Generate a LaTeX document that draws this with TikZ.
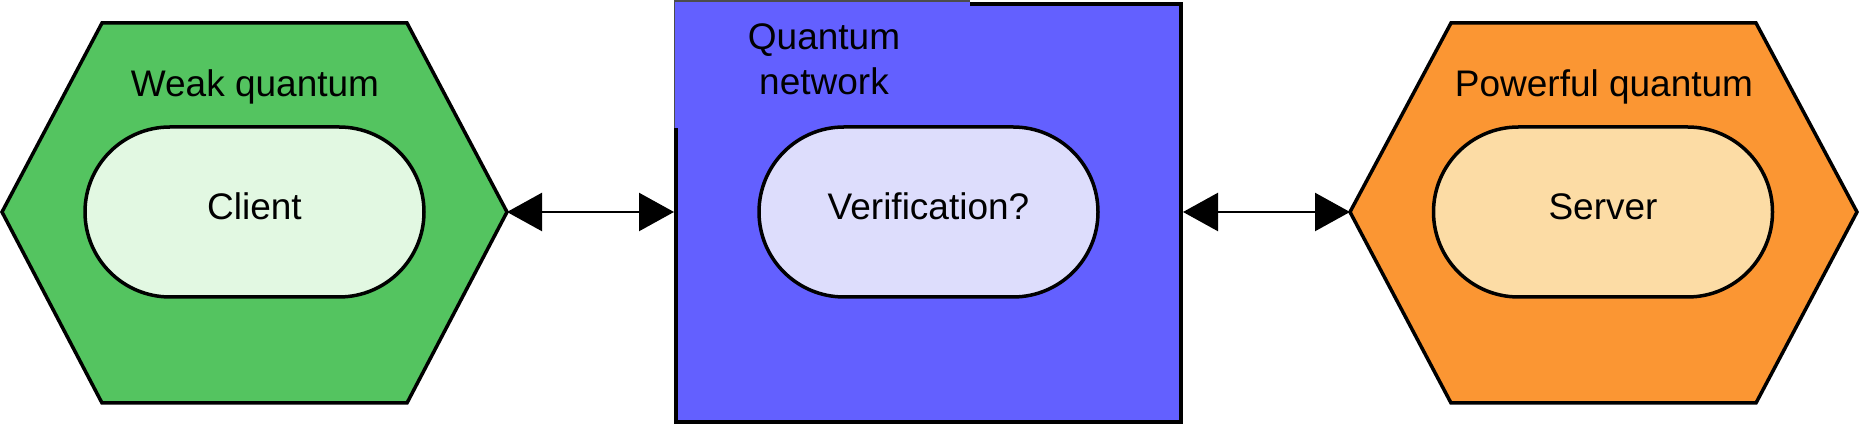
\documentclass[tikz,border=0pt]{standalone}
\usepackage{fontspec}
\setmainfont{Liberation Sans}
\usetikzlibrary{arrows.meta}
\definecolor{hgreen}{RGB}{84,196,96}
\definecolor{lgreen}{RGB}{226,248,226}
\definecolor{qblue}{RGB}{99,96,255}
\definecolor{lblue}{RGB}{221,221,252}
\definecolor{horange}{RGB}{251,150,51}
\definecolor{lorange}{RGB}{252,220,165}
\begin{document}
\begin{tikzpicture}[x=0.5pt,y=-0.5pt,
  every node/.style={font=\fontsize{18.5pt}{22.5pt}\selectfont},
  hexa/.style={draw=black, line width=1.75pt, line join=miter},
  pill/.style={draw=black, line width=1.75pt, rounded corners=42.5pt, minimum width=169.5pt, minimum height=85pt, inner sep=0pt, text height=12pt, text depth=4pt},
  title/.style={anchor=base, inner sep=0pt},
  conn/.style={line width=1.2pt, {Triangle[length=17.5pt,width=19pt]}-{Triangle[length=17.5pt,width=19pt]}}]
\useasboundingbox (0,0) rectangle (1859,426);
\fill[white] (0,0) rectangle (1859,426);
% green hexagon
\coordinate (gL) at (2,212);
\coordinate (gR) at (507,212);
\draw[hexa, fill=hgreen] (102,23) -- (407,23) -- (gR) -- (407,403) -- (102,403) -- (gL) -- cycle;
% orange hexagon
\coordinate (oL) at (1350,212);
\coordinate (oR) at (1857,212);
\draw[hexa, fill=horange] (1451,23) -- (1756,23) -- (oR) -- (1756,403) -- (1451,403) -- (oL) -- cycle;
% blue network box
\node[draw=black, line width=2pt, fill=qblue, minimum width=252.5pt, minimum height=209pt, inner sep=0pt] (net) at (928.5,213) {};
\fill[qblue] (674.5,1) rectangle (970,128);
\draw[line width=0.6pt, black!70] (970,1) -- (674.5,1) -- (674.5,128);
% pills
\node[pill, fill=lgreen] (client) at (254.5,212) {Client};
\node[pill, fill=lblue] (verif) at (928.5,212) {Verification?};
\node[pill, fill=lorange] (server) at (1603,212) {Server};
% titles
\node[title] (weak) at (255,97) {Weak quantum};
\node[title] (netA) at (824,50) {Quantum};
\node[title] (netB) at (824,95) {network};
\node[title] (power) at (1604,97) {Powerful quantum};
% connectors
\draw[conn] (gR) -- (gR -| net.west);
\draw[conn] (oL -| net.east) -- (oL);
\end{tikzpicture}
\end{document}
